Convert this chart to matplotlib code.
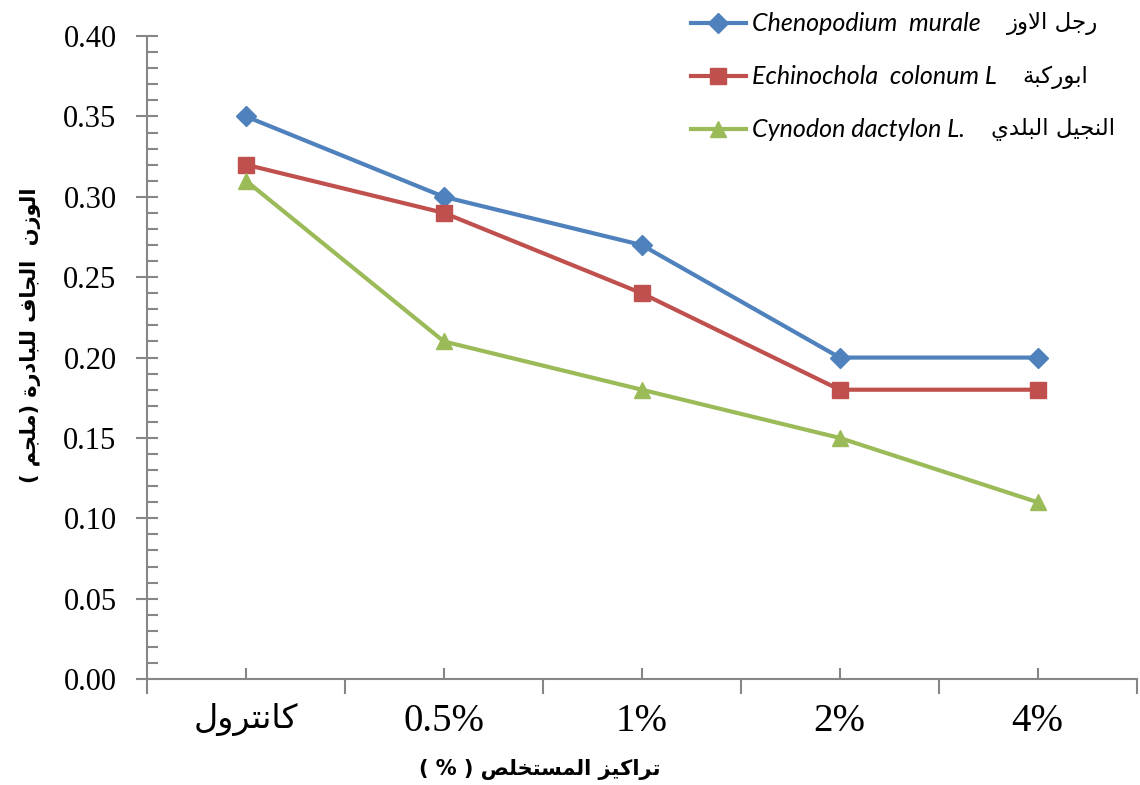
import matplotlib
matplotlib.use("Agg")
import matplotlib.pyplot as plt
from matplotlib.ticker import MultipleLocator, FixedLocator, NullFormatter

categories = ["كانترول", "0.5%", "1%", "2%", "4%"]
chenopodium = [0.35, 0.30, 0.27, 0.20, 0.20]
echinochola = [0.32, 0.29, 0.24, 0.18, 0.18]
cynodon = [0.31, 0.21, 0.18, 0.15, 0.11]
series_latin = ["Chenopodium  murale", "Echinochola  colonum L", "Cynodon dactylon L."]
series_arabic = ["رجل الاوز", "ابوركبة", "النجيل البلدي"]
xlabel = "تراكيز المستخلص ( % )"
ylabel = "الوزن  الجاف للبادرة (ملجم )"

# matplotlib has no arabic shaping, so pick presentation forms by hand
# (isolated, final, initial, medial); two forms = joins to the right only
FORMS = {
    "ا": "\uFE8D\uFE8E", "ب": "\uFE8F\uFE90\uFE91\uFE92", "ة": "\uFE93\uFE94",
    "ت": "\uFE95\uFE96\uFE97\uFE98", "ج": "\uFE9D\uFE9E\uFE9F\uFEA0",
    "خ": "\uFEA5\uFEA6\uFEA7\uFEA8", "د": "\uFEA9\uFEAA", "ر": "\uFEAD\uFEAE",
    "ز": "\uFEAF\uFEB0", "س": "\uFEB1\uFEB2\uFEB3\uFEB4", "ص": "\uFEB9\uFEBA\uFEBB\uFEBC",
    "ف": "\uFED1\uFED2\uFED3\uFED4", "ك": "\uFED9\uFEDA\uFEDB\uFEDC",
    "ل": "\uFEDD\uFEDE\uFEDF\uFEE0", "م": "\uFEE1\uFEE2\uFEE3\uFEE4",
    "ن": "\uFEE5\uFEE6\uFEE7\uFEE8", "و": "\uFEED\uFEEE", "ي": "\uFEF1\uFEF2\uFEF3\uFEF4",
}
LAMALEF = "\uFEFB\uFEFC"
MIRROR = {"(": ")", ")": "("}


def shape(text):
    if not any(c in FORMS for c in text):
        return text
    # merge lam+alef into one ligature token
    chars = []
    i = 0
    while i < len(text):
        if text[i] == "ل" and i + 1 < len(text) and text[i + 1] == "ا":
            chars.append("LA")
            i += 2
        else:
            chars.append(text[i])
            i += 1

    def forms(c):
        return LAMALEF if c == "LA" else FORMS.get(c)

    out = []
    for i, c in enumerate(chars):
        f = forms(c)
        if f is None:
            out.append(MIRROR.get(c, c))
            continue
        prev = forms(chars[i - 1]) if i > 0 else None
        nxt = forms(chars[i + 1]) if i + 1 < len(chars) else None
        join_prev = prev is not None and len(prev) == 4
        join_next = len(f) == 4 and nxt is not None
        if join_prev and join_next:
            out.append(f[3])
        elif join_prev:
            out.append(f[1])
        elif join_next:
            out.append(f[2])
        else:
            out.append(f[0])
    return "".join(reversed(out))


plt.rcParams["font.family"] = ["Liberation Serif", "DejaVu Sans"]

fig, ax = plt.subplots(figsize=(11.4, 7.85), dpi=100)
fig.subplots_adjust(left=0.129, right=0.997, bottom=0.135, top=0.954)

x = list(range(len(categories)))
colors = ["#4F81BD", "#C0504D", "#9BBB59"]
markers = ["D", "s", "^"]
sizes = [10, 12, 12]
handles = []
for vals, c, m, ms in zip([chenopodium, echinochola, cynodon], colors, markers, sizes):
    h, = ax.plot(x, vals, color=c, lw=3, marker=m, markersize=ms, markeredgecolor=c)
    handles.append(h)

ax.set_xlim(-0.5, 4.5)
ax.set_ylim(0, 0.40)

for s in ["top", "right"]:
    ax.spines[s].set_visible(False)
for s in ["left", "bottom"]:
    ax.spines[s].set_color("#868686")
    ax.spines[s].set_linewidth(1.5)

ax.yaxis.set_major_locator(MultipleLocator(0.05))
ax.yaxis.set_minor_locator(MultipleLocator(0.01))
ax.yaxis.set_major_formatter(plt.FuncFormatter(lambda v, p: f"{v:.2f}"))
ax.tick_params(axis="y", which="major", direction="inout", length=16, width=1.5,
               color="#868686", labelsize=22, pad=14)
ax.tick_params(axis="y", which="minor", direction="in", length=8, width=1.5, color="#868686")

ax.xaxis.set_major_locator(FixedLocator([-0.5, 0.5, 1.5, 2.5, 3.5, 4.5]))
ax.xaxis.set_major_formatter(NullFormatter())
ax.xaxis.set_minor_locator(FixedLocator(x))
ax.set_xticklabels([shape(c) for c in categories], minor=True)
ax.tick_params(axis="x", which="major", direction="out", length=11, width=1.5, color="#868686")
ax.tick_params(axis="x", which="minor", direction="in", length=8, width=1.5,
               color="#868686", labelsize=28, pad=17)
ax.get_xticklabels(minor=True)[0].set_fontsize(24)

ax.set_xlabel(shape(xlabel), fontsize=15, fontweight="bold", family="DejaVu Sans")
ax.xaxis.set_label_coords(0.397, -0.125)
ax.set_ylabel(shape(ylabel), fontsize=15, fontweight="bold", family="DejaVu Sans")
ax.yaxis.set_label_coords(-0.107, 0.535)

leg = fig.legend(handles, series_latin, loc="upper left", bbox_to_anchor=(0.586, 1.013),
                 frameon=False, handlelength=2.2, handletextpad=0.25, labelspacing=1.2,
                 prop={"family": "Lato", "style": "italic", "size": 18})

# arabic names after each legend entry (oblique DejaVu has no arabic glyphs)
fig.canvas.draw()
for t, ar in zip(leg.get_texts(), series_arabic):
    bb = t.get_window_extent()
    fig.text(bb.x1 + 26, (bb.y0 + bb.y1) / 2, shape(ar), transform=None,
             family="DejaVu Sans", fontsize=16.5, va="center", ha="left")

plt.savefig("out.png")
